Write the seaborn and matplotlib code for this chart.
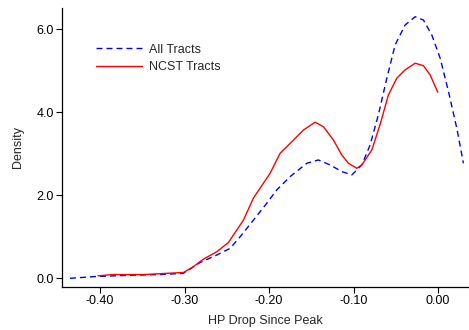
import matplotlib
matplotlib.use("Agg")
import matplotlib.pyplot as plt
import seaborn as sns
import pandas as pd
from matplotlib.ticker import FormatStrFormatter

all_x = [-0.4355, -0.4079, -0.3684, -0.3290, -0.3014, -0.2817, -0.2619, -0.2462,
         -0.2343, -0.2186, -0.2027, -0.1909, -0.1751, -0.1554, -0.1417, -0.1278,
         -0.1140, -0.1021, -0.0903, -0.0805, -0.0707, -0.0607, -0.0509, -0.0391,
         -0.0272, -0.0174, -0.0075, 0.0024, 0.0122, 0.0221, 0.0299]
all_y = [0.00, 0.04, 0.07, 0.09, 0.12, 0.38, 0.56, 0.72,
         1.00, 1.40, 1.81, 2.13, 2.45, 2.77, 2.85, 2.73,
         2.57, 2.49, 2.73, 3.21, 3.94, 4.82, 5.62, 6.10,
         6.30, 6.22, 5.86, 5.30, 4.50, 3.61, 2.77]

ncst_x = [-0.4024, -0.3846, -0.3488, -0.3014, -0.2896, -0.2778, -0.2619, -0.2482,
          -0.2304, -0.2186, -0.1988, -0.1870, -0.1751, -0.1594, -0.1456, -0.1357,
          -0.1239, -0.1140, -0.1062, -0.0962, -0.0903, -0.0785, -0.0686, -0.0588,
          -0.0489, -0.0391, -0.0272, -0.0174, -0.0095, -0.0004]
ncst_y = [0.06, 0.09, 0.09, 0.14, 0.28, 0.46, 0.64, 0.86,
          1.40, 1.93, 2.53, 3.01, 3.25, 3.57, 3.76, 3.65,
          3.33, 2.97, 2.77, 2.65, 2.73, 3.09, 3.71, 4.42,
          4.82, 5.02, 5.18, 5.12, 4.90, 4.48]

series_labels = ["All Tracts", "NCST Tracts"]
x_ticks = [-0.40, -0.30, -0.20, -0.10, 0.00]
y_ticks = [0.0, 2.0, 4.0, 6.0]

FS = 9

sns.set_style("ticks")
plt.rcParams['font.family'] = ['Liberation Sans', 'DejaVu Sans']
plt.rcParams['font.size'] = FS

fig = plt.figure(figsize=(4.69, 3.30), dpi=100)
ax = fig.add_axes([0.1322, 0.1312, 0.866, 0.8446])

df_all = pd.DataFrame({"x": all_x, "y": all_y})
df_ncst = pd.DataFrame({"x": ncst_x, "y": ncst_y})

sns.lineplot(data=df_all, x="x", y="y", ax=ax, color="#0000ff", lw=1.0,
             sort=False, estimator=None, label=series_labels[0],
             linestyle=(0, (4.3, 2.9)))
sns.lineplot(data=df_ncst, x="x", y="y", ax=ax, color="#ff0000", lw=1.0,
             sort=False, estimator=None, label=series_labels[1])

ax.set_xlim(-0.445, 0.0355)
ax.set_ylim(-0.2024, 6.51)
ax.set_xticks(x_ticks)
ax.set_yticks(y_ticks)
ax.xaxis.set_major_formatter(FormatStrFormatter('%.2f'))
ax.yaxis.set_major_formatter(FormatStrFormatter('%.1f'))
ax.tick_params(axis='both', length=4.3, width=0.8, labelsize=FS, colors='black', pad=1.5)
for s in ['top', 'right']:
    ax.spines[s].set_visible(False)
for s in ['left', 'bottom']:
    ax.spines[s].set_linewidth(0.9)
    ax.spines[s].set_color('black')

ax.set_xlabel("HP Drop Since Peak", fontsize=FS, labelpad=6)
ax.set_ylabel("Density", fontsize=FS, labelpad=9)

leg = ax.legend(loc='upper left', bbox_to_anchor=(0.083, 0.872), frameon=False,
                handlelength=3.7, handletextpad=0.6, labelspacing=0.45, fontsize=FS,
                borderaxespad=0, borderpad=0)

fig.savefig("out.png", dpi=100)
